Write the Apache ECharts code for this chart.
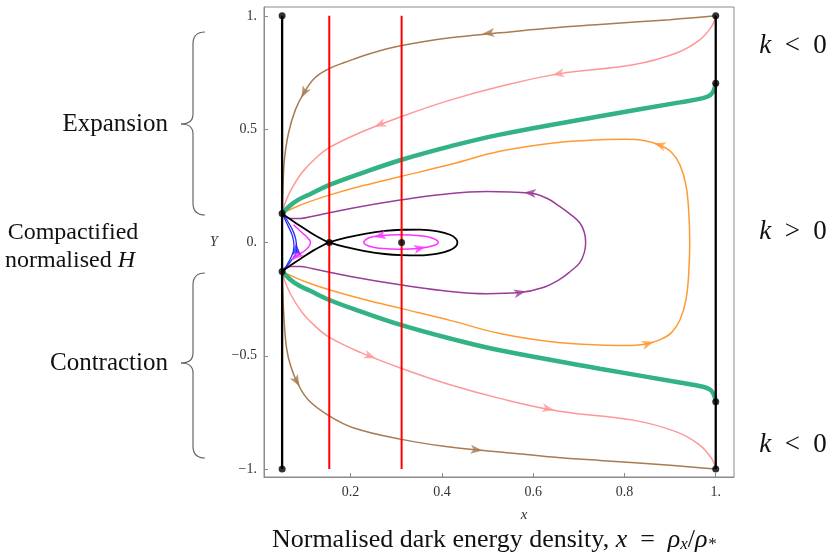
<!DOCTYPE html>
<html>
<head>
<meta charset="utf-8">
<script src="https://cdn.jsdelivr.net/npm/echarts@6/dist/echarts.min.js"></script>
<style>html,body{margin:0;padding:0;background:#fff;}#c{width:833px;height:553px;}</style>
</head>
<body>
<div id="c"></div>
<script>
// ---- axis ticks ----
const xTicks = [0.2, 0.4, 0.6, 0.8, 1.0];
const xTickLabels = ['0.2', '0.4', '0.6', '0.8', '1.'];
const yTicks = [-1, -0.5, 0, 0.5, 1];
const yTickLabels = ['\u22121.', '\u22120.5', '0.', '0.5', '1.'];

// ---- boundary and reference lines ----
const leftEdge = [[0.05, -1], [0.05, 1]];
const rightEdge = [[1.0, -1], [1.0, 1]];
const redLine1 = [[0.1533, -1], [0.1533, 1]];
const redLine2 = [[0.3118, -1], [0.3118, 1]];

// ---- trajectories (x, Y) ----
const brownUp = [[1.0,1.0],[0.90,0.983],[0.746,0.962],[0.627,0.944],[0.527,0.925],[0.418,0.903],[0.312,0.869],[0.242,0.833],[0.188,0.795],[0.153,0.767],[0.122,0.727],[0.098,0.661],[0.079,0.585],[0.064,0.483],[0.055,0.365],[0.052,0.25],[0.050,0.128]];
const brownDown = [[0.050,-0.128],[0.052,-0.25],[0.055,-0.365],[0.060,-0.47],[0.068,-0.54],[0.082,-0.613],[0.107,-0.694],[0.153,-0.765],[0.209,-0.82],[0.312,-0.869],[0.418,-0.903],[0.476,-0.915],[0.527,-0.925],[0.627,-0.944],[0.746,-0.962],[0.90,-0.983],[1.0,-1.0]];
const pinkUp = [[1.0,0.996],[0.991,0.953],[0.965,0.894],[0.914,0.836],[0.819,0.784],[0.658,0.745],[0.527,0.688],[0.418,0.628],[0.312,0.556],[0.220,0.484],[0.153,0.418],[0.120,0.365],[0.092,0.304],[0.067,0.222],[0.055,0.165],[0.050,0.128]];
const pinkDown = [[0.050,-0.128],[0.055,-0.165],[0.067,-0.222],[0.092,-0.304],[0.120,-0.365],[0.153,-0.418],[0.220,-0.484],[0.312,-0.556],[0.418,-0.628],[0.527,-0.688],[0.658,-0.745],[0.819,-0.784],[0.914,-0.836],[0.965,-0.894],[0.991,-0.953],[1.0,-0.996]];
const greenUp = [[0.050,0.128],[0.067,0.162],[0.085,0.188],[0.110,0.212],[0.155,0.255],[0.220,0.303],[0.312,0.365],[0.418,0.424],[0.527,0.476],[0.746,0.557],[0.921,0.618],[0.972,0.637],[0.988,0.650],[0.996,0.672],[1.0,0.703]];
const greenDown = [[0.050,-0.128],[0.067,-0.162],[0.085,-0.188],[0.110,-0.212],[0.155,-0.255],[0.220,-0.303],[0.312,-0.365],[0.418,-0.424],[0.527,-0.476],[0.746,-0.557],[0.921,-0.618],[0.972,-0.637],[0.988,-0.650],[0.996,-0.672],[1.0,-0.703]];
const orangeLoop = [[0.050,0.128],[0.075,0.152],[0.110,0.180],[0.155,0.210],[0.230,0.252],[0.312,0.292],[0.420,0.345],[0.527,0.402],[0.640,0.438],[0.746,0.453],[0.800,0.455],[0.845,0.449],[0.877,0.430],[0.903,0.398],[0.922,0.340],[0.935,0.250],[0.941,0.130],[0.943,0],
  [0.941,-0.130],[0.935,-0.250],[0.922,-0.340],[0.903,-0.398],[0.877,-0.430],[0.845,-0.449],[0.800,-0.455],[0.746,-0.453],[0.640,-0.438],[0.527,-0.402],[0.420,-0.345],[0.312,-0.292],[0.230,-0.252],[0.155,-0.210],[0.110,-0.180],[0.075,-0.152],[0.050,-0.128]];
const purpleLoop = [[0.050,0.128],[0.057,0.114],[0.068,0.106],[0.090,0.106],[0.115,0.115],[0.200,0.150],[0.312,0.188],[0.400,0.212],[0.498,0.225],[0.593,0.218],[0.630,0.195],[0.658,0.159],[0.683,0.122],[0.702,0.087],[0.712,0.045],[0.715,0],
  [0.712,-0.045],[0.702,-0.090],[0.683,-0.125],[0.658,-0.163],[0.620,-0.200],[0.571,-0.221],[0.498,-0.226],[0.400,-0.212],[0.312,-0.188],[0.200,-0.150],[0.115,-0.115],[0.090,-0.106],[0.068,-0.106],[0.057,-0.114],[0.050,-0.128]];
const separatrix = [[0.050,0.128],[0.067,0.103],[0.089,0.074],[0.118,0.036],[0.137,0.015],[0.153,0],[0.188,-0.020],[0.231,-0.038],[0.275,-0.051],[0.312,-0.056],[0.352,-0.057],[0.391,-0.049],[0.418,-0.034],[0.431,-0.016],[0.434,0],
  [0.431,0.016],[0.418,0.034],[0.391,0.049],[0.352,0.057],[0.312,0.056],[0.275,0.051],[0.231,0.038],[0.188,0.020],[0.153,0],[0.137,-0.015],[0.118,-0.036],[0.089,-0.074],[0.067,-0.103],[0.050,-0.128]];
const blueA = [[0.050,0.128],[0.0635,0.071],[0.073,0.026],[0.076,-0.018],[0.067,-0.076],[0.050,-0.128]];
const blueB = [[0.050,0.128],[0.071,0.063],[0.080,0.012],[0.082,-0.032],[0.074,-0.069],[0.050,-0.128]];
const magentaCusp = [[0.075,0.078],[0.092,0.046],[0.106,0.020],[0.112,0],[0.108,-0.020],[0.097,-0.040],[0.085,-0.056],[0.072,-0.076]];
const magentaOrbit = [[0.228,0],[0.238,0.0185],[0.264,0.0296],[0.308,0.034],[0.352,0.0296],[0.380,0.0185],[0.392,0],[0.380,-0.0146],[0.352,-0.0256],[0.308,-0.030],[0.264,-0.0256],[0.238,-0.0146],[0.228,0]];

// ---- fixed points ----
const fixedPoints = [[0.05,1],[0.05,-1],[1,1],[1,-1],[1,0.703],[1,-0.703],[0.05,0.128],[0.05,-0.128],[0.1533,0],[0.3118,0]];

// ---- arrow heads: [x, Y, towardX, towardY] ----
const brownArrows = [[0.502,0.924,0.45,0.913],[0.098,0.661,0.090,0.630],[0.082,-0.613,0.094,-0.655],[0.476,-0.915,0.527,-0.925]];
const pinkArrows = [[0.655,0.744,0.60,0.722],[0.264,0.520,0.22,0.484],[0.243,-0.502,0.28,-0.530],[0.633,-0.734,0.68,-0.752]];
const orangeArrows = [[0.877,0.430,0.845,0.449],[0.852,-0.446,0.877,-0.430]];
const purpleArrows = [[0.593,0.218,0.56,0.224],[0.571,-0.221,0.62,-0.200]];
const magentaArrows = [[0.264,0.0296,0.238,0.0185],[0.352,-0.0256,0.380,-0.0146],[0.082,-0.060,0.072,-0.076]];
const blueArrows = [[0.081,-0.030,0.080,0.012]];

const C = {brown:'#a87b50', pink:'#ff9797', green:'#33b383', orange:'#ff9a33', purple:'#9a3d9a', magenta:'#ff33ff', blue:'#2a2aff', red:'#ff0000', black:'#000000'};

function line(data, color, width, smooth, z) {
  return {type:'line', data:data, smooth:smooth, showSymbol:false, symbol:'none', silent:true,
    lineStyle:{color:color, width:width}, z:z||2, clip:false};
}

function brace(yTop, yTip, yBot) {
  const s = {fill:'none', stroke:'#666', lineWidth:1.2};
  return [
    {type:'bezierCurve', shape:{x1:205, y1:yTop, x2:193, y2:yTop+12, cpx1:193, cpy1:yTop}, style:s},
    {type:'line', shape:{x1:193, y1:yTop+12, x2:193, y2:yTip-10}, style:s},
    {type:'bezierCurve', shape:{x1:193, y1:yTip-10, x2:181, y2:yTip, cpx1:193, cpy1:yTip}, style:s},
    {type:'bezierCurve', shape:{x1:181, y1:yTip, x2:193, y2:yTip+10, cpx1:193, cpy1:yTip}, style:s},
    {type:'line', shape:{x1:193, y1:yTip+10, x2:193, y2:yBot-12}, style:s},
    {type:'bezierCurve', shape:{x1:193, y1:yBot-12, x2:205, y2:yBot, cpx1:193, cpy1:yBot}, style:s}
  ];
}

const italicRich = function(size){ return {i:{fontStyle:'italic', fontFamily:'Liberation Serif', fontSize:size, fill:'#111'}}; };
const SP = '\u2002';

const chart = echarts.init(document.getElementById('c'));
const option = {
  animation:false,
  backgroundColor:'#ffffff',
  grid:{left:264, top:7, width:470, height:470, show:true, borderColor:'#8a8a8a', borderWidth:1},
  xAxis:{type:'value', min:0.0103, max:1.040,
    axisLine:{show:true, onZero:false, lineStyle:{color:'#8a8a8a'}},
    axisTick:{show:true, inside:true, length:4, lineStyle:{color:'#8a8a8a'}, customValues:xTicks},
    axisLabel:{show:true, customValues:xTicks, margin:8, color:'#333', fontFamily:'Liberation Serif', fontSize:14,
      formatter:function(v){ const i = xTicks.findIndex(t=>Math.abs(t-v)<1e-6); return i>=0?xTickLabels[i]:''; }},
    splitLine:{show:false}},
  yAxis:{type:'value', min:-1.035, max:1.039,
    axisLine:{show:true, onZero:false, lineStyle:{color:'#8a8a8a'}},
    axisTick:{show:true, inside:true, length:4, lineStyle:{color:'#8a8a8a'}, customValues:yTicks},
    axisLabel:{show:true, customValues:yTicks, margin:7, color:'#333', fontFamily:'Liberation Serif', fontSize:14,
      formatter:function(v){ const i = yTicks.findIndex(t=>Math.abs(t-v)<1e-6); return i>=0?yTickLabels[i]:''; }},
    splitLine:{show:false}},
  graphic:[
    {type:'text', style:{x:168, y:124, text:'Expansion', font:'25px "Liberation Serif"', fill:'#111', align:'right', verticalAlign:'middle'}},
    {type:'text', style:{x:168, y:363, text:'Contraction', font:'25px "Liberation Serif"', fill:'#111', align:'right', verticalAlign:'middle'}},
    {type:'text', style:{x:73, y:233, text:'Compactified', font:'24px "Liberation Serif"', fill:'#111', align:'center', verticalAlign:'middle'}},
    {type:'text', style:{x:70, y:261, text:'normalised {i|H}', font:'24px "Liberation Serif"', fill:'#111', align:'center', verticalAlign:'middle', rich:italicRich(24)}},
    {type:'text', style:{x:793, y:46, text:'{i|k}' + SP + '<' + SP + '0', font:'27px "Liberation Serif"', fill:'#111', align:'center', verticalAlign:'middle', rich:italicRich(27)}},
    {type:'text', style:{x:793, y:232, text:'{i|k}' + SP + '>' + SP + '0', font:'27px "Liberation Serif"', fill:'#111', align:'center', verticalAlign:'middle', rich:italicRich(27)}},
    {type:'text', style:{x:793, y:445, text:'{i|k}' + SP + '<' + SP + '0', font:'27px "Liberation Serif"', fill:'#111', align:'center', verticalAlign:'middle', rich:italicRich(27)}},
    {type:'text', style:{x:524, y:515, text:'x', font:'italic 15px "Liberation Serif"', fill:'#333', align:'center', verticalAlign:'middle'}},
    {type:'text', style:{x:214, y:242, text:'Y', font:'italic 14px "Liberation Serif"', fill:'#333', align:'center', verticalAlign:'middle'}},
    {type:'text', style:{x:494, y:540, text:'Normalised dark energy density, {i|x}' + SP + '=' + SP + '{i|\u03c1}{s|x}/{i|\u03c1}{s|*}', font:'26px "Liberation Serif"', fill:'#111', align:'center', verticalAlign:'middle',
      rich:{i:{fontStyle:'italic', fontFamily:'Liberation Serif', fontSize:26, fill:'#111'}, s:{fontStyle:'italic', fontFamily:'Liberation Serif', fontSize:17, fill:'#111', padding:[10,0,0,0]}}}}
  ].concat(brace(32, 124, 215)).concat(brace(273, 363, 458)),
  series:[
    line(brownUp, C.brown, 1.5, 0.4),
    line(brownDown, C.brown, 1.5, 0.4),
    line(pinkUp, C.pink, 1.5, 0.4),
    line(pinkDown, C.pink, 1.5, 0.4),
    line(orangeLoop, C.orange, 1.5, 0.4),
    line(purpleLoop, C.purple, 1.5, 0.4),
    line(greenUp, C.green, 4.5, 0.4, 3),
    line(greenDown, C.green, 4.5, 0.4, 3),
    line(blueA, C.blue, 1.3, 0.5),
    line(blueB, C.blue, 1.3, 0.5),
    line(magentaCusp, C.magenta, 1.5, 0.5),
    line(magentaOrbit, C.magenta, 1.5, 0.5),
    line(separatrix, C.black, 1.8, 0.4, 4),
    line(redLine1, C.red, 2, false, 5),
    line(redLine2, C.red, 2, false, 5),
    line(leftEdge, C.black, 2.3, false, 5),
    line(rightEdge, C.black, 2.3, false, 5)
  ]
};
chart.setOption(option);

function arrowSeries(list, color) {
  const data = list.map(function(a){
    const p1 = chart.convertToPixel({gridIndex:0}, [a[0], a[1]]);
    const p2 = chart.convertToPixel({gridIndex:0}, [a[2], a[3]]);
    const ang = Math.atan2(-(p2[1]-p1[1]), p2[0]-p1[0]) * 180 / Math.PI;
    return {value:[a[0], a[1]], symbolRotate:ang};
  });
  return {type:'scatter', data:data, symbol:'path://M10,4 L0,0 L2.5,4 L0,8 Z', symbolSize:[12,9], symbolKeepAspect:false,
    itemStyle:{color:color}, silent:true, z:6, clip:false};
}
option.series.push(arrowSeries(brownArrows, C.brown));
option.series.push(arrowSeries(pinkArrows, C.pink));
option.series.push(arrowSeries(orangeArrows, C.orange));
option.series.push(arrowSeries(purpleArrows, C.purple));
option.series.push(arrowSeries(magentaArrows, C.magenta));
option.series.push(arrowSeries(blueArrows, C.blue));
option.series.push({type:'scatter', data:fixedPoints, symbol:'circle', symbolSize:7, itemStyle:{color:'#000'}, silent:true, z:8, clip:false});
chart.setOption(option);
</script>
</body>
</html>
